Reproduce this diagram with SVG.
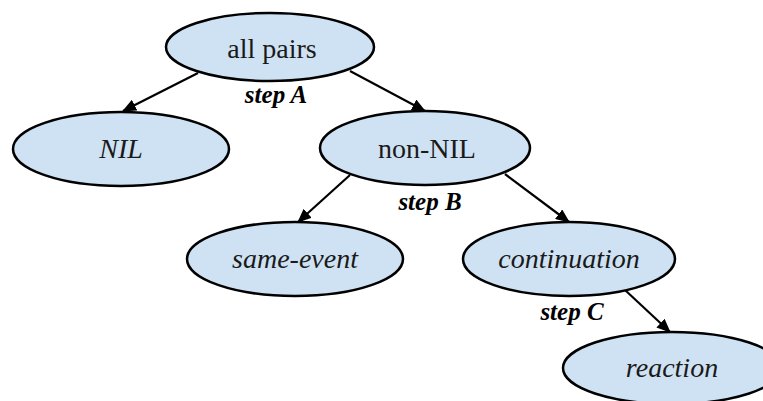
<svg xmlns="http://www.w3.org/2000/svg" width="763" height="401" viewBox="0 0 763 401">
<defs>
<marker id="ah" viewBox="0 0 14 12" refX="13" refY="6" markerWidth="14" markerHeight="12" markerUnits="userSpaceOnUse" orient="auto">
<path d="M0,0 L14,6 L0,12 z" fill="#000"/>
</marker>
<style>
.node ellipse{fill:#cfe2f3;stroke:#000;stroke-width:2.5}
.node text{font-family:"Liberation Serif","Times New Roman",serif;font-size:28px;text-anchor:middle;fill:#1a1a1a}
.it{font-style:italic}
.edge{stroke:#000;stroke-width:2.2;fill:none;marker-end:url(#ah)}
.lbl{font-family:"Liberation Serif","Times New Roman",serif;font-size:25px;font-weight:bold;font-style:italic;text-anchor:middle;fill:#000}
</style>
</defs>
<rect width="763" height="401" fill="#fff"/>
<g id="connectors">
<line class="edge" x1="198" y1="73" x2="123" y2="111"/>
<line class="edge" x1="350" y1="71" x2="425" y2="111"/>
<line class="edge" x1="350" y1="175" x2="298" y2="222"/>
<line class="edge" x1="505" y1="174" x2="569" y2="222"/>
<line class="edge" x1="625" y1="290" x2="670" y2="332"/>
<text class="lbl" x="276" y="103">step A</text>
<text class="lbl" x="430" y="210">step B</text>
<text class="lbl" x="572" y="320">step C</text>
</g>
<g id="all-pairs" class="node"><ellipse cx="270" cy="47" rx="104" ry="34"/><text x="272" y="58">all pairs</text></g>
<g id="nil" class="node"><ellipse cx="121" cy="149" rx="108" ry="37"/><text class="it" x="121" y="158">NIL</text></g>
<g id="non-nil" class="node"><ellipse cx="425" cy="148" rx="105" ry="37"/><text x="427" y="158">non-NIL</text></g>
<g id="same-event" class="node"><ellipse cx="295" cy="259" rx="108" ry="37"/><text class="it" x="295" y="268">same-event</text></g>
<g id="continuation" class="node"><ellipse cx="569" cy="259" rx="106" ry="37"/><text class="it" x="569" y="268">continuation</text></g>
<g id="reaction" class="node"><ellipse cx="672" cy="368" rx="109" ry="36"/><text class="it" x="672" y="377">reaction</text></g>
</svg>
